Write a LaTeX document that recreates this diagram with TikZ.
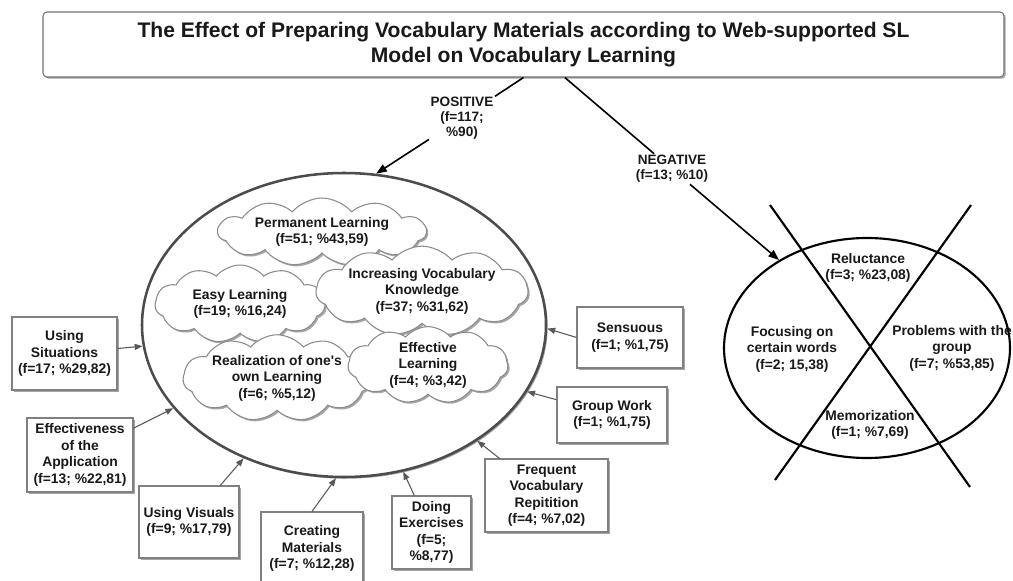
\documentclass[tikz,border=0pt]{standalone}
\usepackage{fontspec}
\setmainfont{Liberation Sans}
\usetikzlibrary{shapes.geometric,shapes.symbols,shadows,arrows.meta}

\begin{document}
\begin{tikzpicture}[x=0.75pt,y=-0.75pt,
  shade/.style={drop shadow={shadow xshift=1.3pt,shadow yshift=-1.3pt,fill=black!35,opacity=1}},
  headbox/.style={draw=black!55,fill=white,rounded corners=3pt,line width=0.8pt,shade,align=center,
    minimum width=720.75pt,minimum height=48.75pt,font=\fontsize{15.8}{18.75}\selectfont\bfseries},
  factor/.style={draw=black!50,fill=white,line width=0.8pt,shade,align=center},
  idea/.style={cloud,cloud puffs=11,cloud puff arc=100,cloud ignores aspect,draw=black!45,fill=white,
    line width=0.8pt,shade,align=center},
  bigell/.style={ellipse,draw=black!70,fill=white,line width=1.9pt,shade},
  negell/.style={ellipse,draw=black,line width=1.6pt},
  signlab/.style={align=center,inner sep=1pt,font=\fontsize{10.2}{11.3}\selectfont\bfseries},
  link/.style={draw=black!65,line width=0.8pt,-{Triangle[length=6pt,width=4.5pt]}},
  sign/.style={line width=1.2pt,-{Triangle[length=8pt,width=6pt]}}]
\tikzstyle{every node}+=[inner sep=0pt,text=black!90,font=\fontsize{10.4}{12.4}\selectfont\bfseries]
\useasboundingbox (0,0) rectangle (1013,581);
\node[headbox] (title) at (523.5,44.5) {The Effect of Preparing Vocabulary Materials according to Web-supported SL\\Model on Vocabulary Learning};
\node[signlab] (poslab) at (462,118) {POSITIVE\\(f=117;\\\%90)};
\node[signlab] (neglab) at (672,169) {NEGATIVE\\(f=13; \%10)};
\node[bigell,minimum width=303pt,minimum height=228pt] (leftell) at (344,325) {};
\node[idea,minimum width=156pt,minimum height=51pt] (perm) at (322,232) {Permanent Learning\\(f=51; \%43,59)};
\node[idea,minimum width=127.5pt,minimum height=58.5pt] (easy) at (240,304) {Easy Learning\\(f=19; \%16,24)};
\node[idea,minimum width=159pt,minimum height=55.5pt] (incr) at (422,291) {Increasing Vocabulary\\Knowledge\\(f=37; \%31,62)};
\node[idea,minimum width=141pt,minimum height=52.5pt] (real) at (277,378) {Realization of one\textquotesingle s\\own Learning\\(f=6; \%5,12)};
\node[idea,minimum width=120pt,minimum height=52pt] (effl) at (428,365) {Effective\\Learning\\(f=4; \%3,42)};
\node[factor,minimum width=78.75pt,minimum height=54.75pt] (situ) at (64.5,353.5) {Using\\Situations\\(f=17; \%29,82)};
\node[factor,minimum width=79.5pt,minimum height=55.5pt] (appl) at (80,455) {Effectiveness\\of the\\Application\\(f=13; \%22,81)};
\node[factor,minimum width=75pt,minimum height=54pt] (visu) at (189,522) {Using Visuals\\(f=9; \%17,79)};
\node[factor,minimum width=76.5pt,minimum height=54.75pt] (crea) at (312,548.5) {Creating\\Materials\\(f=7; \%12,28)};
\node[factor,minimum width=59.25pt,minimum height=54.75pt] (exer) at (431.5,532.5) {Doing\\Exercises\\(f=5;\\\%8,77)};
\node[factor,minimum width=92.25pt,minimum height=54.75pt] (repe) at (546.5,495.5) {Frequent\\Vocabulary\\Repitition\\(f=4; \%7,02)};
\node[factor,minimum width=82.5pt,minimum height=42pt] (group) at (612,415) {Group Work\\(f=1; \%1,75)};
\node[factor,minimum width=79.5pt,minimum height=45.75pt] (sens) at (630,337.5) {Sensuous\\(f=1; \%1,75)};
\draw[link] (situ) -- (leftell.186.2);
\draw[link] (appl) -- (leftell.206.3);
\draw[link] (visu) -- (leftell.233.7);
\draw[link] (crea.north) -- (leftell.267.8);
\draw[link] (exer) -- (leftell.292.5);
\draw[link] (repe) -- (leftell.319.9);
\draw[link] (group) -- (leftell.340.4);
\draw[link] (sens.west) -- (leftell.359.4);
\node[negell,minimum width=214.5pt,minimum height=165pt] (badell) at (867,348) {};
\coordinate (crossa) at (770,205);
\coordinate (crossb) at (970,487);
\coordinate (crossc) at (971,205);
\coordinate (crossd) at (775,480);
\draw[line width=1.6pt] (crossa) -- (crossb);
\draw[line width=1.6pt] (crossc) -- (crossd);
\node[align=center] (reluc) at (868,268) {Reluctance\\(f=3; \%23,08)};
\node[align=center] (focus) at (792,349) {Focusing on\\certain words\\(f=2; 15,38)};
\node[align=center] (probl) at (952,348) {Problems with the\\group\\(f=7; \%53,85)};
\node[align=center] (memo) at (870,425) {Memorization\\(f=1; \%7,69)};
\draw[line width=1.2pt] (title.south) -- (poslab);
\draw[sign] (poslab) -- (leftell.78.5);
\draw[line width=1.2pt] ([xshift=31pt]title.south) -- (neglab);
\draw[sign] (neglab) -- (badell.135.6);
\end{tikzpicture}
\end{document}
